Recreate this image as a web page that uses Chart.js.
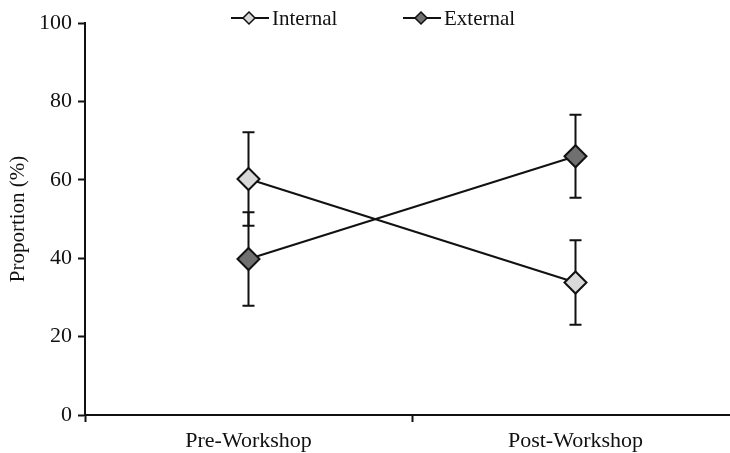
<!DOCTYPE html>
<html>
<head>
<meta charset="utf-8">
<script src="https://cdn.jsdelivr.net/npm/chart.js@4"></script>
<style>
  html, body { margin: 0; padding: 0; background: #fff; overflow: hidden; }
  canvas { display: block; }
</style>
</head>
<body>
<canvas id="proportion-chart" width="752" height="453"></canvas>
<script>
const categories = ["Pre-Workshop", "Post-Workshop"];
const internalValues = [60.2, 33.8];
const internalErrors = [11.9, 10.8];
const externalValues = [39.8, 66.0];
const externalErrors = [11.9, 10.6];
const yTicks = [0, 20, 40, 60, 80, 100];

const serifFont = "'Liberation Serif', 'Times New Roman', serif";

// error bars drawn from the arrays through the y scale
const errorBarPlugin = {
    id: "errorBars",
    beforeDatasetsDraw(chart) {
        const ctx = chart.ctx;
        const yScale = chart.scales.y;
        chart.data.datasets.forEach((dataset, i) => {
            const meta = chart.getDatasetMeta(i);
            meta.data.forEach((point, j) => {
                const value = dataset.data[j];
                const err = dataset.errors[j];
                const top = yScale.getPixelForValue(value + err);
                const bottom = yScale.getPixelForValue(value - err);
                ctx.save();
                ctx.strokeStyle = "#111";
                ctx.lineWidth = 2;
                ctx.beginPath();
                ctx.moveTo(point.x, top);
                ctx.lineTo(point.x, bottom);
                ctx.moveTo(point.x - 6, top);
                ctx.lineTo(point.x + 6, top);
                ctx.moveTo(point.x - 6, bottom);
                ctx.lineTo(point.x + 6, bottom);
                ctx.stroke();
                ctx.restore();
            });
        });
    },
};

// legend with a line through the marker, like the original
const lineLegendPlugin = {
    id: "lineLegend",
    afterDraw(chart) {
        const ctx = chart.ctx;
        const items = [
            { x: 231, ds: chart.data.datasets[0] },
            { x: 403, ds: chart.data.datasets[1] },
        ];
        const y = 18;
        items.forEach((item) => {
            ctx.save();
            ctx.strokeStyle = "#111";
            ctx.lineWidth = 2;
            ctx.beginPath();
            ctx.moveTo(item.x, y);
            ctx.lineTo(item.x + 38, y);
            ctx.stroke();
            const cx = item.x + 18;
            const r = 6;
            ctx.beginPath();
            ctx.moveTo(cx, y - r);
            ctx.lineTo(cx + r, y);
            ctx.lineTo(cx, y + r);
            ctx.lineTo(cx - r, y);
            ctx.closePath();
            ctx.fillStyle = item.ds.pointBackgroundColor;
            ctx.fill();
            ctx.lineWidth = 1.5;
            ctx.stroke();
            ctx.fillStyle = "#111";
            ctx.font = "21px " + serifFont;
            ctx.textBaseline = "middle";
            ctx.fillText(item.ds.label, item.x + 41, y + 1);
            ctx.restore();
        });
    },
};

const proportionData = {
    labels: categories,
    datasets: [
        {
            label: "Internal",
            data: internalValues,
            errors: internalErrors,
            borderColor: "#111",
            borderWidth: 2,
            pointStyle: "rectRot",
            pointRadius: 11,
            pointHoverRadius: 11,
            pointBackgroundColor: "#d9d9d9",
            pointBorderColor: "#111",
            pointBorderWidth: 2,
            tension: 0,
        },
        {
            label: "External",
            data: externalValues,
            errors: externalErrors,
            borderColor: "#111",
            borderWidth: 2,
            pointStyle: "rectRot",
            pointRadius: 11,
            pointHoverRadius: 11,
            pointBackgroundColor: "#707070",
            pointBorderColor: "#111",
            pointBorderWidth: 2,
            tension: 0,
        },
    ],
};

const proportionConfig = {
    type: "line",
    data: proportionData,
    plugins: [errorBarPlugin, lineLegendPlugin],
    options: {
        responsive: false,
        animation: false,
        devicePixelRatio: 1,
        // canvas is wider than the window: the x axis runs off the right edge
        layout: { padding: { left: 0, top: 23, right: 3, bottom: 0 } },
        plugins: {
            legend: { display: false },
            tooltip: { enabled: false },
        },
        scales: {
            x: {
                offset: true,
                grid: {
                    offset: true,
                    drawOnChartArea: false,
                    drawTicks: true,
                    tickLength: 7,
                    tickColor: "#111",
                    tickWidth: 2,
                },
                border: { color: "#111", width: 2 },
                ticks: {
                    color: "#111",
                    font: { family: serifFont, size: 22 },
                    padding: 6,
                },
                afterFit(scale) { scale.height = 38; },
            },
            y: {
                min: 0,
                max: 100,
                afterBuildTicks(scale) {
                    scale.ticks = yTicks.map((v) => ({ value: v }));
                },
                grid: {
                    drawOnChartArea: false,
                    drawTicks: true,
                    tickLength: 7,
                    tickColor: "#111",
                    tickWidth: 2,
                },
                border: { color: "#111", width: 2 },
                ticks: {
                    color: "#111",
                    font: { family: serifFont, size: 22 },
                    padding: 6,
                },
                title: {
                    display: true,
                    text: "Proportion (%)",
                    color: "#111",
                    font: { family: serifFont, size: 21 },
                    padding: { top: 6, bottom: 0 },
                },
                afterFit(scale) { scale.width = 85; },
            },
        },
    },
};

const proportionChart = new Chart(
    document.getElementById("proportion-chart"),
    proportionConfig
);
</script>
</body>
</html>
